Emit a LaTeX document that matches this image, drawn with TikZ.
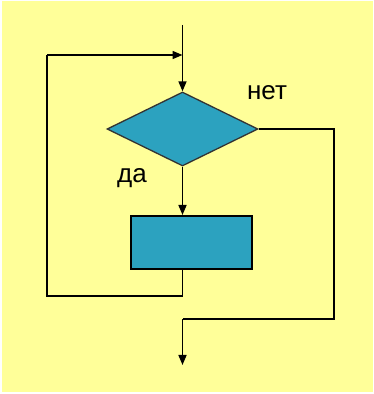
\documentclass[tikz,border=0pt]{standalone}
\usepackage{fontspec}
\setmainfont{Liberation Sans}
\usetikzlibrary{shapes.geometric,arrows.meta}
\definecolor{bgyellow}{HTML}{FFFF99}
\definecolor{boxteal}{HTML}{2CA2BF}
\tikzset{
  flow/.style={line width=1.5pt,draw=black},
  arr/.style={flow,-{Triangle[length=10pt,width=8pt]}},
  cond/.style={shape=diamond,draw=black!80,line width=1.3pt,fill=boxteal,minimum width=151pt,minimum height=74pt,inner sep=0pt},
  proc/.style={shape=rectangle,draw=black,line width=2pt,fill=boxteal,minimum width=121pt,minimum height=53pt,inner sep=0pt},
  lbl/.style={font=\fontsize{26}{28}\selectfont,inner sep=0pt,anchor=base}
}
\begin{document}
\begin{tikzpicture}[x=1pt,y=1pt]
\useasboundingbox (0,0) rectangle (374,394);
\fill[white] (0,0) rectangle (374,394);
\fill[bgyellow] (1.5,1.5) rectangle (372.5,392.5);
\coordinate (top) at (182.5,369);
\coordinate (join) at (182.5,339);
\node[cond] (d) at (182.5,265) {};
\node[proc] (r) at (191.5,151.5) {};
\coordinate (lb) at (182.5,98);
\coordinate (ll) at (47,98);
\coordinate (lt) at (47,339);
\coordinate (re) at (334,265);
\coordinate (rb) at (334,75);
\coordinate (mb) at (182.5,75);
\coordinate (end) at (182.5,29);
\draw[arr] (top) -- (d.north);
\draw[arr] (d.south) -- (d.south |- r.north);
\draw[flow] (lb |- r.south) -- (lb) -- (ll) -- (lt);
\draw[arr] (lt) -- (join);
\draw[flow] (d.east) -- (re) -- (rb) -- (mb);
\draw[arr] (mb) -- (end);
\node[lbl] (net) at (267,294) {нет};
\node[lbl] (da) at (132,211) {да};
\end{tikzpicture}
\end{document}
